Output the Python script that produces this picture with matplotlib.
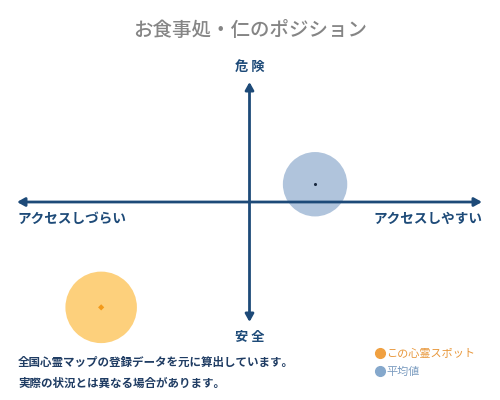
import matplotlib
matplotlib.use("Agg")
import matplotlib.pyplot as plt
from matplotlib.lines import Line2D

plt.rcParams['font.family'] = ['Noto Sans CJK JP', 'DejaVu Sans']

title = "お食事処・仁のポジション"
x_labels = ["アクセスしづらい", "アクセスしやすい"]
y_labels = ["安 全", "危 険"]
series_names = ["この心霊スポット", "平均値"]
series_x = [-3.19, 1.41]
series_y = [-4.39, 0.74]
notes = ["全国心霊マップの登録データを元に算出しています。",
         "実際の状況とは異なる場合があります。"]

axis_color = "#1d4a78"
spot_color = "#fdd07c"
avg_color = "#b0c4dc"
spot_text = "#e8973a"
avg_text = "#7b9cc0"

fig = plt.figure(figsize=(5, 4), dpi=100)
ax = fig.add_axes([0.034, 0.195, 0.93, 0.6])
ax.set_xlim(-5, 5)
ax.set_ylim(-5, 5)
ax.axis("off")

arrow = dict(arrowstyle="<|-|>,head_length=0.45,head_width=0.25", color=axis_color,
             lw=2.0, shrinkA=0, shrinkB=0)
ax.annotate("", xy=(5, 0), xytext=(-5, 0), arrowprops=arrow, annotation_clip=False,
            zorder=2)
ax.annotate("", xy=(0, 5), xytext=(0, -5), arrowprops=arrow, annotation_clip=False,
            zorder=2)

# bubbles
ax.scatter([series_x[1]], [series_y[1]], s=2150, color=avg_color,
           edgecolors="none", zorder=1, clip_on=False)
ax.scatter([series_x[0]], [series_y[0]], s=2650, color=spot_color,
           edgecolors="none", zorder=1, clip_on=False)
ax.scatter([series_x[1]], [series_y[1]], s=1.5, color="#1a2a40", zorder=4, clip_on=False)
ax.scatter([series_x[0]], [series_y[0]], s=10, marker="D", color="#f39a1a", zorder=4,
           clip_on=False, edgecolors="none")

# axis labels
ax.text(0, 5.35, y_labels[1], ha="center", va="bottom", fontsize=9.5, fontweight="bold",
        color=axis_color)
ax.text(0, -5.35, y_labels[0], ha="center", va="top", fontsize=9.5, fontweight="bold",
        color=axis_color)
ax.text(-5, -0.4, x_labels[0], ha="left", va="top", fontsize=9.8, fontweight="bold",
        color=axis_color)
ax.text(5, -0.4, x_labels[1], ha="right", va="top", fontsize=9.8, fontweight="bold",
        color=axis_color)

fig.text(0.5, 0.925, title, ha="center", va="center", fontsize=14, color="#858585",
         fontweight="medium")

fig.text(0.036, 0.093, notes[0], ha="left", va="center", fontsize=8.3,
         fontweight="bold", color="#1f3c63")
fig.text(0.036, 0.041, notes[1], ha="left", va="center", fontsize=8.3,
         fontweight="bold", color="#1f3c63")

handles = [Line2D([], [], marker="o", ls="none", markersize=7, color="#f0a040"),
           Line2D([], [], marker="o", ls="none", markersize=7, color="#85a8cc")]
leg = fig.legend(handles, series_names, loc="upper left", bbox_to_anchor=(0.748, 0.128),
                 frameon=False, fontsize=8, handletextpad=0.1, handlelength=1.0,
                 labelspacing=0.7, borderaxespad=0, borderpad=0,
                 labelcolor=[spot_text, avg_text])

fig.savefig("out.png", dpi=100, facecolor="white")
